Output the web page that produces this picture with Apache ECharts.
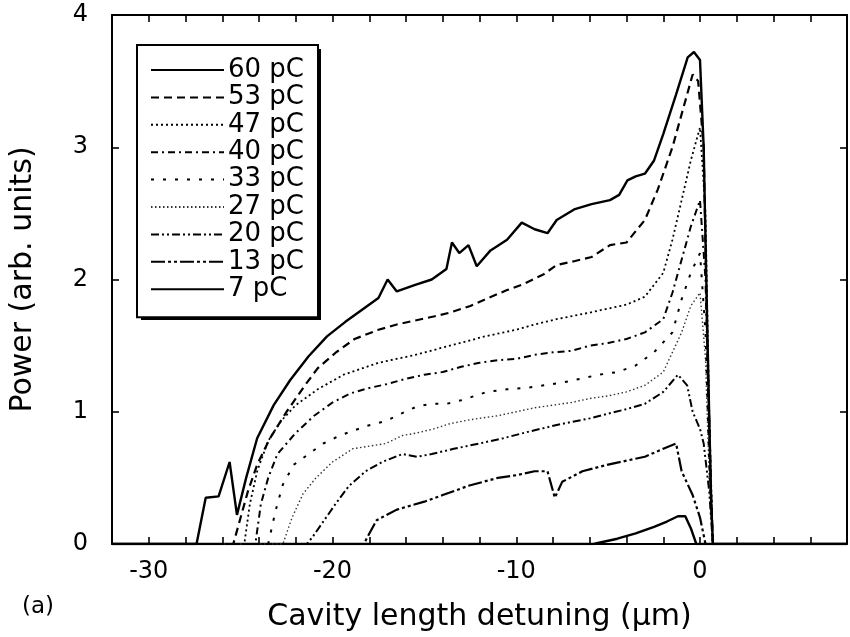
<!DOCTYPE html>
<html>
<head>
<meta charset="utf-8">
<script src="https://cdn.jsdelivr.net/npm/echarts@6/dist/echarts.min.js"></script>
<style>html,body{margin:0;padding:0;background:#fff}#c{width:850px;height:637px}</style>
</head>
<body>
<div id="c"></div>
<script>
const seriesNames = ['60 pC','53 pC','47 pC','40 pC','33 pC','27 pC','20 pC','13 pC','7 pC'];
const xTickLabels = [-30,-20,-10,0];
const yTicks = [0,1,2,3,4];

const s60 = [[-32,0],[-27.4,0],[-26.9,0.35],[-26.2,0.36],[-25.6,0.62],[-25.2,0.22],[-24.7,0.5],[-24.1,0.8],[-23.2,1.05],[-22.3,1.24],[-21.3,1.42],[-20.3,1.57],[-19.3,1.68],[-18.2,1.79],[-17.5,1.86],[-17.0,2.0],[-16.5,1.91],[-15.5,1.96],[-14.6,2.0],[-13.8,2.08],[-13.5,2.28],[-13.1,2.2],[-12.6,2.26],[-12.15,2.1],[-11.4,2.22],[-10.5,2.3],[-9.7,2.43],[-9.0,2.38],[-8.3,2.35],[-7.8,2.45],[-6.85,2.53],[-5.9,2.57],[-4.9,2.6],[-4.4,2.64],[-3.95,2.75],[-3.5,2.78],[-3.0,2.8],[-2.5,2.9],[-2.0,3.1],[-1.3,3.4],[-0.67,3.68],[-0.33,3.72],[0.0,3.66],[0.2,3.0],[0.4,1.6],[0.6,0.35],[0.7,0],[8,0]];
const s53 = [[-32,0],[-25.4,0],[-25.0,0.2],[-24.6,0.4],[-24.1,0.6],[-23.4,0.8],[-22.5,1.0],[-21.5,1.2],[-20.8,1.33],[-19.8,1.45],[-18.8,1.55],[-17.5,1.62],[-16.5,1.66],[-15.5,1.69],[-14.5,1.72],[-13.6,1.75],[-12.5,1.8],[-11.7,1.85],[-10.5,1.92],[-9.7,1.96],[-8.5,2.04],[-7.8,2.11],[-6.8,2.14],[-5.9,2.17],[-4.9,2.26],[-4,2.28],[-3,2.45],[-2.3,2.68],[-1.5,3.0],[-0.8,3.35],[-0.4,3.55],[-0.1,3.5],[0.2,3.0],[0.4,1.5],[0.6,0.4],[0.7,0],[8,0]];
const s47 = [[-32,0],[-24.8,0],[-24.5,0.3],[-24.1,0.55],[-23.5,0.78],[-22.8,0.93],[-22,1.05],[-20.8,1.17],[-19.4,1.28],[-17.5,1.37],[-15.5,1.43],[-13.6,1.5],[-11.7,1.57],[-10,1.62],[-9,1.66],[-7.8,1.7],[-6,1.75],[-4,1.81],[-3,1.87],[-2,2.05],[-1.5,2.3],[-1,2.6],[-0.5,2.9],[0,3.15],[0.3,2.5],[0.5,1.0],[0.7,0],[8,0]];
const s40 = [[-32,0],[-24.2,0],[-23.9,0.3],[-23.5,0.5],[-23,0.68],[-22,0.84],[-21,0.97],[-20,1.07],[-19,1.14],[-18,1.18],[-17,1.21],[-16,1.25],[-15,1.28],[-14,1.3],[-13,1.34],[-12,1.37],[-11,1.39],[-10,1.4],[-9,1.43],[-8,1.45],[-7,1.46],[-6,1.5],[-5,1.52],[-4,1.55],[-3,1.6],[-2,1.7],[-1.5,1.9],[-1,2.15],[-0.5,2.4],[0,2.6],[0.3,2.0],[0.5,0.8],[0.7,0],[8,0]];
const s33 = [[-32,0],[-23.5,0],[-23.1,0.25],[-22.7,0.45],[-22.1,0.6],[-21.3,0.68],[-20.5,0.76],[-19.6,0.82],[-18.2,0.89],[-17.1,0.93],[-16.2,0.99],[-15.4,1.04],[-14.6,1.06],[-13.8,1.06],[-12.9,1.09],[-11.6,1.15],[-10.5,1.17],[-9.5,1.18],[-8.5,1.2],[-7.5,1.22],[-6.5,1.25],[-5.5,1.28],[-4.5,1.3],[-3.5,1.35],[-2.5,1.45],[-1.5,1.6],[-1,1.85],[-0.5,2.05],[0,2.2],[0.3,1.6],[0.5,0.6],[0.7,0],[8,0]];
const s27 = [[-32,0],[-22.7,0],[-22.2,0.2],[-21.6,0.38],[-20.9,0.5],[-20,0.62],[-18.9,0.72],[-18,0.74],[-17.1,0.76],[-16.2,0.82],[-15.4,0.84],[-14.5,0.87],[-13.6,0.91],[-12.5,0.94],[-11,0.97],[-10,1.0],[-9,1.03],[-8,1.05],[-7,1.07],[-6,1.1],[-5,1.12],[-4,1.15],[-3,1.2],[-2,1.3],[-1.5,1.45],[-1,1.6],[-0.5,1.8],[0,1.9],[0.3,1.4],[0.5,0.5],[0.7,0],[8,0]];
const s20 = [[-32,0],[-21.4,0],[-21.1,0.05],[-19.8,0.31],[-19.1,0.44],[-18.2,0.55],[-17.3,0.62],[-16.2,0.68],[-15.4,0.66],[-14.6,0.68],[-13.4,0.72],[-12,0.76],[-10.7,0.8],[-9.3,0.85],[-7.8,0.9],[-6,0.95],[-4,1.02],[-3,1.06],[-2,1.15],[-1.2,1.28],[-0.7,1.2],[-0.4,1.0],[0,0.87],[0.2,0.76],[0.5,0.4],[0.7,0],[8,0]];
const s13 = [[-32,0],[-18.3,0],[-17.6,0.18],[-16.5,0.26],[-15,0.32],[-14,0.37],[-12.6,0.44],[-11,0.5],[-10,0.52],[-9,0.55],[-8.3,0.55],[-7.9,0.35],[-7.5,0.47],[-6.4,0.55],[-5,0.6],[-4,0.63],[-3,0.66],[-2,0.72],[-1.3,0.76],[-1.0,0.55],[-0.4,0.37],[0,0.2],[0.3,0],[8,0]];
const s7 = [[-32,0],[-5.8,0],[-4.5,0.04],[-3.5,0.08],[-2.5,0.13],[-1.8,0.17],[-1.2,0.21],[-0.8,0.21],[-0.5,0.12],[-0.2,0],[8,0]];

const seriesData = [s60,s53,s47,s40,s33,s27,s20,s13,s7];
const styles = [
  {width:2.4, type:'solid', color:'#000'},
  {width:2.2, type:[8,5], color:'#000'},
  {width:1.8, type:[2,3], color:'#000'},
  {width:2, type:[7,4,2,4], color:'#000'},
  {width:2, type:[3,9], color:'#000'},
  {width:1.4, type:[1.5,2.5], color:'#333'},
  {width:2, type:[8,3,2,3,2,3], color:'#000'},
  {width:2.2, type:[14,3,3,3,3,3], color:'#000'},
  {width:2.4, type:'solid', color:'#000'}
];

const font = 'DejaVu Sans, Liberation Sans, sans-serif';
const chart = echarts.init(document.getElementById('c'));
const axisCommon = {
  min:-32, max:8, interval:2,
  axisLine:{show:true, onZero:false, lineStyle:{color:'#000', width:2}},
  axisTick:{show:true, inside:true, length:7, lineStyle:{color:'#000', width:1.6}},
  splitLine:{show:false}
};
const yCommon = {
  type:'value', min:0, max:4, interval:1,
  axisLine:{show:true, onZero:false, lineStyle:{color:'#000', width:2}},
  axisTick:{show:true, inside:true, length:7, lineStyle:{color:'#000', width:1.6}},
  splitLine:{show:false}
};
chart.setOption({
  animation:false,
  backgroundColor:'#fff',
  grid:{left:102, right:0, top:15, bottom:88, containLabel:false},
  legend:{
    data:seriesNames, orient:'vertical', left:137, top:45,
    itemWidth:73, itemHeight:14, itemGap:1.4,
    padding:[12,14,15,13],
    backgroundColor:'#fff', borderColor:'#000', borderWidth:2,
    selectedMode:false, z:5,
    itemStyle:{opacity:0},
    textStyle:{fontSize:26, color:'#000', fontFamily:font, padding:[0,0,0,-1]}
  },
  xAxis:[
    Object.assign({type:'value', position:'bottom',
      name:'Cavity length detuning (µm)', nameLocation:'middle', nameGap:58,
      nameTextStyle:{fontSize:30, color:'#000', fontFamily:font},
      axisLabel:{show:true, color:'#000', fontSize:24, fontFamily:font, margin:16,
        formatter:v => xTickLabels.indexOf(v) >= 0 ? String(v) : ''}}, axisCommon),
    Object.assign({type:'value', position:'top', axisLabel:{show:false}}, axisCommon)
  ],
  yAxis:[
    Object.assign({position:'left',
      name:'Power (arb. units)', nameLocation:'middle', nameGap:74,
      nameTextStyle:{fontSize:30, color:'#000', fontFamily:font},
      axisLabel:{color:'#000', fontSize:24, fontFamily:font, margin:24,
        formatter:v => yTicks.indexOf(v) >= 0 ? String(v) : ''}}, yCommon),
    Object.assign({position:'right', axisLabel:{show:false}}, yCommon)
  ],
  graphic:[
    {type:'rect', z:1, shape:{x:141, y:49, width:180, height:271}, style:{fill:'#000'}},
    {type:'text', left:22, top:596, style:{text:'(a)', fontSize:23, fontFamily:font, fill:'#000'}}
  ],
  series: seriesNames.map((n,i) => ({
    name:n, type:'line', xAxisIndex:0, yAxisIndex:0, data:seriesData[i],
    showSymbol:false, symbol:'none', smooth:false,
    lineStyle:{color:styles[i].color, width:styles[i].width, type:styles[i].type},
    itemStyle:{color:styles[i].color}, z:10-i
  }))
});
</script>
</body>
</html>
